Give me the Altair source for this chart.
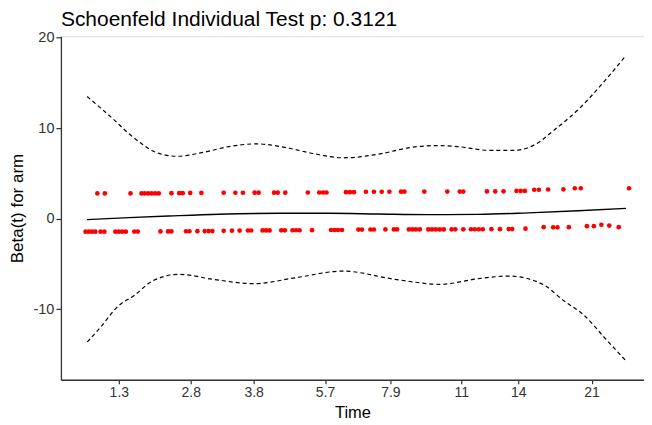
import altair as alt
import pandas as pd

# x values are on the transformed-time axis used by the plot (arbitrary linear units)
upper_x = [98.5, 106, 131.7, 142.7, 146, 149.5, 153, 156.5, 160, 172.7, 180.5, 184, 191.5, 202.7,
           225, 236.7, 244.3, 256, 260, 275.5, 279.2, 286.7, 309.3, 320.7, 324.5, 328, 347.5, 351.5,
           355.5, 367.5, 375.5, 383.3, 391, 402.7, 406, 426, 449, 461.5, 465, 488.7, 497, 505.3,
           518.3, 522.5, 526.7, 536, 540.7, 550, 565.3, 576.7, 582.7, 631]
upper_y = [2.80, 2.80, 2.80, 2.80, 2.80, 2.80, 2.80, 2.80, 2.80, 2.82, 2.82, 2.82, 2.85, 2.85,
           2.87, 2.87, 2.87, 2.88, 2.88, 2.88, 2.88, 2.88, 2.90, 2.90, 2.90, 2.90, 2.93, 2.93,
           2.93, 2.98, 2.98, 2.98, 2.98, 2.99, 2.99, 3.00, 3.00, 3.00, 3.00, 3.02, 3.02, 3.03,
           3.07, 3.07, 3.07, 3.20, 3.20, 3.23, 3.25, 3.37, 3.37, 3.37]

lower_x = [86.7, 90, 93.3, 96.5, 101.7, 105.5, 116.5, 120, 123.3, 127, 135.5, 139, 161.7, 169.3,
           172.7, 187.3, 190.7, 198.7, 206, 210, 213.7, 225, 233.3, 241, 249.3, 252.5, 264, 267.5,
           271, 282.7, 286.3, 294, 297.5, 301, 313.5, 332.5, 336, 339.5, 343.5, 360, 363.5, 372,
           375.5, 387, 395.5, 398.7, 410.5, 414, 417.5, 421.5, 430, 433.7, 437.5, 441.5, 445.5,
           453.3, 457, 465, 472.7, 476.5, 480.5, 484.5, 493.2, 501.7, 510.5, 514, 527.3, 545.5,
           555, 559.3, 570.7, 588.8, 595.8, 603.3, 611.2, 620.7]
lower_y = [-1.43, -1.43, -1.43, -1.43, -1.43, -1.43, -1.43, -1.43, -1.43, -1.43, -1.42, -1.42, -1.40, -1.40,
           -1.40, -1.38, -1.38, -1.37, -1.36, -1.36, -1.36, -1.33, -1.32, -1.31, -1.30, -1.30, -1.29, -1.29,
           -1.29, -1.28, -1.28, -1.27, -1.27, -1.27, -1.26, -1.24, -1.24, -1.24, -1.24, -1.20, -1.20, -1.19,
           -1.19, -1.18, -1.18, -1.18, -1.18, -1.18, -1.18, -1.18, -1.18, -1.18, -1.18, -1.18, -1.18,
           -1.17, -1.17, -1.17, -1.16, -1.16, -1.16, -1.16, -1.15, -1.15, -1.14, -1.14, -1.10, -0.93,
           -0.95, -0.95, -0.93, -0.82, -0.82, -0.66, -0.76, -0.93]

fit_x = [88, 130, 170, 220, 280, 330, 380, 430, 480, 530, 580, 628]
fit_y = [-0.1, 0.12, 0.3, 0.5, 0.6, 0.6, 0.52, 0.45, 0.48, 0.65, 0.88, 1.15]

ci_up_x = [88.3, 101, 115, 128, 141.7, 158.3, 178.3, 205, 231.7, 258.3, 288.3, 315, 345, 383.3,
           410, 436.7, 456.7, 490, 516.7, 536.7, 556.7, 583.3, 603.3, 627]
ci_up_y = [13.5, 12.3, 10.95, 9.6, 8.38, 7.28, 6.9, 7.34, 8.0, 8.27, 7.83, 7.2, 6.73, 7.2,
           7.83, 8.08, 8.0, 7.56, 7.56, 8.19, 9.85, 12.4, 14.8, 17.9]

ci_lo_x = [88.4, 100, 119.5, 135, 153.7, 180.2, 214.4, 255, 297.9, 344.2, 396.6, 442.1, 480,
           510.4, 544.6, 565, 586.3, 607, 628.8]
ci_lo_y = [-13.6, -12.2, -9.64, -8.5, -6.88, -6.14, -6.69, -7.17, -6.5, -5.78, -6.69, -7.24, -6.62,
           -6.33, -7.24, -9.0, -10.7, -13.2, -15.8]

tick_pos = [120, 192, 255, 326.5, 392, 463, 520, 593.5]
tick_labels = ["1.3", "2.8", "3.8", "5.7", "7.9", "11", "14", "21"]

X_DOMAIN = [62, 646]
Y_DOMAIN = [-17.78, 20.15]

pts = pd.DataFrame({"x": upper_x + lower_x, "y": upper_y + lower_y})
fit = pd.DataFrame({"x": fit_x, "y": fit_y})
ci = pd.concat([
    pd.DataFrame({"x": ci_up_x, "y": ci_up_y, "band": "upper"}),
    pd.DataFrame({"x": ci_lo_x, "y": ci_lo_y, "band": "lower"}),
])

label_expr = ""
for p, l in zip(tick_pos, tick_labels):
    label_expr += f"datum.value == {p} ? '{l}' : "
label_expr += "''"

FONT = "Liberation Sans"

x_enc = alt.X("x:Q", scale=alt.Scale(domain=X_DOMAIN, nice=False, zero=False),
              axis=alt.Axis(title="Time", values=tick_pos, labelExpr=label_expr, grid=False,
                            tickSize=4, labelPadding=2, titlePadding=5,
                            labelFontSize=14, titleFontSize=16.5, labelFont=FONT, titleFont=FONT,
                            labelColor="#333333", titleColor="black", titleFontWeight="normal",
                            domainColor="#333333", tickColor="#333333", domainWidth=1.3, tickWidth=1.2))
y_enc = alt.Y("y:Q", scale=alt.Scale(domain=Y_DOMAIN, nice=False, zero=False),
              axis=alt.Axis(title="Beta(t) for arm", values=[-10, 0, 10, 20], grid=False,
                            labelExpr="'' + datum.value",
                            tickSize=5, labelPadding=2, titlePadding=7,
                            labelFontSize=14.5, titleFontSize=17, labelFont=FONT, titleFont=FONT,
                            labelColor="#333333", titleColor="black", titleFontWeight="normal",
                            domainColor="#333333", tickColor="#333333", domainWidth=1.3, tickWidth=1.2))

points = alt.Chart(pts).mark_circle(size=22, color="#FF0000", opacity=1).encode(x=x_enc, y=y_enc)
fit_line = alt.Chart(fit).mark_line(color="black", strokeWidth=1.4, interpolate="monotone").encode(
    x="x:Q", y="y:Q")
ci_lines = alt.Chart(ci).mark_line(color="black", strokeWidth=1.2, strokeDash=[4, 3],
                                   interpolate="monotone").encode(x="x:Q", y="y:Q", detail="band:N")

chart = alt.layer(points, fit_line, ci_lines).properties(
    width=584, height=344,
    padding={"left": 0, "right": 0, "top": 0, "bottom": 0},
    title=alt.TitleParams("Schoenfeld Individual Test p: 0.3121", anchor="start", frame="group",
                          fontSize=21, font=FONT, fontWeight="normal", color="black", offset=0),
).configure_view(stroke=None).configure(background="white")

chart.save("out.html", embed_options={"renderer": "svg", "actions": False})
